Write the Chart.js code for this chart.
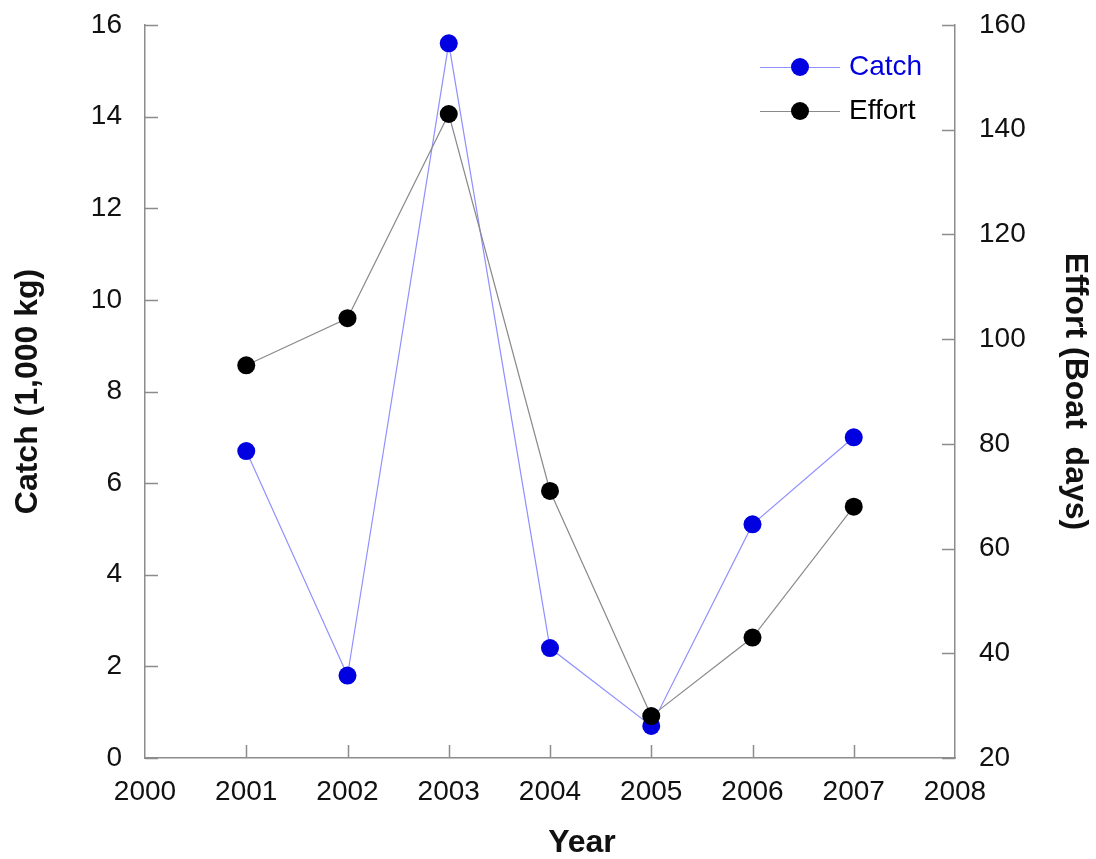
<!DOCTYPE html>
<html>
<head>
<meta charset="utf-8">
<script src="https://cdn.jsdelivr.net/npm/chart.js@4.4.1/dist/chart.umd.min.js"></script>
<style>
  html, body { margin: 0; padding: 0; background: #fff; }
  #wrap { width: 1096px; height: 859px; position: relative; }
</style>
</head>
<body>
<div id="wrap"><canvas id="chart"></canvas></div>
<script>
// data
const years = [2001, 2002, 2003, 2004, 2005, 2006, 2007];
const catchValues = [6.7, 1.8, 15.6, 2.4, 0.7, 5.1, 7.0];     // 1,000 kg
const effortValues = [95, 104, 143, 71, 28, 43, 68];          // boat days

const AXIS = '#8c8c8c';
const FONT = "'Liberation Sans', Arial, sans-serif";

Chart.defaults.font.family = FONT;
Chart.defaults.color = '#111';

// tick marks pointing into the plot, like the original
const innerTicks = {
    id: 'innerTicks',
    beforeDatasetsDraw(chart) {
        const { ctx, chartArea: a, scales } = chart;
        const len = 13;
        ctx.save();
        ctx.strokeStyle = AXIS;
        ctx.lineWidth = 1.5;
        ctx.beginPath();
        scales.x.ticks.forEach(t => {
            if (t.value === scales.x.min || t.value === scales.x.max) return;
            const px = Math.round(scales.x.getPixelForValue(t.value)) + 0.5;
            ctx.moveTo(px, a.bottom); ctx.lineTo(px, a.bottom - len);
        });
        scales.y.ticks.forEach(t => {
            const py = Math.round(scales.y.getPixelForValue(t.value)) + 0.5;
            ctx.moveTo(a.left, py); ctx.lineTo(a.left + len, py);
        });
        scales.y1.ticks.forEach(t => {
            const py = Math.round(scales.y1.getPixelForValue(t.value)) + 0.5;
            ctx.moveTo(a.right, py); ctx.lineTo(a.right - len, py);
        });
        ctx.stroke();
        ctx.restore();
    }
};

// legend inside the plot, top right, plus the x title
const insideLegend = {
    id: 'insideLegend',
    afterDraw(chart) {
        const { ctx } = chart;
        const rows = [
            { ds: chart.data.datasets[0], y: 67 },
            { ds: chart.data.datasets[1], y: 111 }
        ];
        ctx.save();
        rows.forEach(r => {
            ctx.strokeStyle = r.ds.borderColor;
            ctx.lineWidth = r.ds.borderWidth;
            ctx.beginPath();
            ctx.moveTo(760, r.y + 0.5); ctx.lineTo(840, r.y + 0.5);
            ctx.stroke();
            ctx.fillStyle = r.ds.pointBackgroundColor;
            ctx.beginPath();
            ctx.arc(800, r.y, 9, 0, Math.PI * 2);
            ctx.fill();
            ctx.fillStyle = r.ds.labelColor;
            ctx.font = '28px ' + FONT;
            ctx.textBaseline = 'middle';
            ctx.textAlign = 'left';
            ctx.fillText(r.ds.label, 849, r.y);
        });
        ctx.fillStyle = '#111';
        ctx.font = 'bold 32px ' + FONT;
        ctx.textAlign = 'center';
        ctx.textBaseline = 'middle';
        ctx.fillText('Year', 582, 843);
        ctx.restore();
    }
};

const fixWidth = w => s => { s.width = w; s.paddingTop = 0; s.paddingBottom = 0; };

new Chart(document.getElementById('chart'), {
    type: 'line',
    data: {
        datasets: [{
            label: 'Catch',
            data: years.map((x, i) => ({ x, y: catchValues[i] })),
            yAxisID: 'y',
            borderColor: '#9090ff',
            borderWidth: 1.2,
            pointBackgroundColor: '#0000e0',
            pointBorderWidth: 0,
            pointRadius: 9,
            labelColor: '#0000e0',
            order: 2
        }, {
            label: 'Effort',
            data: years.map((x, i) => ({ x, y: effortValues[i] })),
            yAxisID: 'y1',
            borderColor: '#8a8a8a',
            borderWidth: 1.2,
            pointBackgroundColor: '#000',
            pointBorderWidth: 0,
            pointRadius: 9,
            labelColor: '#000',
            order: 1
        }]
    },
    options: {
        responsive: true,
        maintainAspectRatio: false,
        animation: false,
        layout: { padding: { top: 25 } },
        plugins: { legend: { display: false }, tooltip: { enabled: false } },
        scales: {
            x: {
                type: 'linear',
                min: 2000, max: 2008,
                afterFit: s => { s.height = 101; s.paddingLeft = 0; s.paddingRight = 0; },
                grid: { drawOnChartArea: false, drawTicks: false },
                border: { color: AXIS, width: 1.5 },
                ticks: { stepSize: 1, padding: 17, font: { size: 28 }, callback: v => String(v) }
            },
            y: {
                position: 'left',
                min: 0, max: 16,
                afterFit: fixWidth(145),
                grid: { drawOnChartArea: false, drawTicks: false },
                border: { color: AXIS, width: 1.5 },
                ticks: { stepSize: 2, padding: 23, font: { size: 28 } },
                title: {
                    display: true, text: 'Catch (1,000 kg)',
                    font: { size: 32, weight: 'bold', lineHeight: 1 },
                    padding: { top: 12, bottom: 0 }
                }
            },
            y1: {
                position: 'right',
                min: 20, max: 160,
                afterFit: fixWidth(141),
                grid: { drawOnChartArea: false, drawTicks: false },
                border: { color: AXIS, width: 1.5 },
                ticks: { stepSize: 20, padding: 24, font: { size: 28 } },
                title: {
                    display: true, text: 'Effort (Boat  days)',
                    font: { size: 32, weight: 'bold', lineHeight: 1 },
                    padding: { top: 5, bottom: 0 }
                }
            }
        }
    },
    plugins: [innerTicks, insideLegend]
});
</script>
</body>
</html>
